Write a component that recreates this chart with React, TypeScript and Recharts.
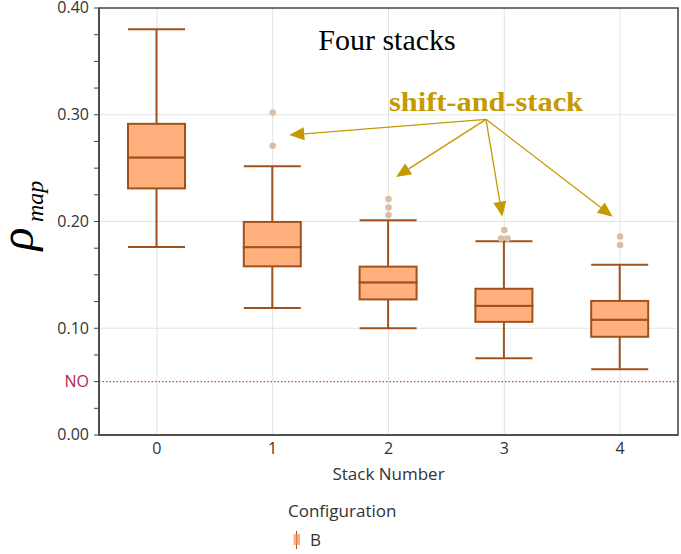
import React from 'react';
import {
  ComposedChart, Bar, Scatter, XAxis, YAxis, CartesianGrid,
  ReferenceLine, ReferenceArea, Legend
} from 'recharts';

// box plot summary per stack number
const stacks = [0, 1, 2, 3, 4];
const whiskerLow = [0.176, 0.119, 0.100, 0.072, 0.0615];
const q1 = [0.231, 0.158, 0.127, 0.106, 0.092];
const median = [0.260, 0.176, 0.143, 0.121, 0.108];
const q3 = [0.2915, 0.1996, 0.1577, 0.137, 0.1256];
const whiskerHigh = [0.380, 0.2518, 0.2012, 0.1815, 0.1596];

// outliers
const outlierStack = [1, 1, 2, 2, 2, 3, 3, 3, 4, 4];
const outlierValue = [0.302, 0.271, 0.221, 0.213, 0.206, 0.192, 0.184, 0.184, 0.186, 0.178];

// y ticks (every 0.025, labels on the major ones)
const yTicks = [0, 0.025, 0.05, 0.075, 0.1, 0.125, 0.15, 0.175, 0.2, 0.225, 0.25, 0.275, 0.3, 0.325, 0.35, 0.375, 0.4];
const yLabelled = [0, 0.1, 0.2, 0.3, 0.4];
const noLevel = 0.05;

// "shift-and-stack" annotation arrows (data units)
const arrowFrom = { x: 2.842, y: 0.2957 };
const arrowTipStack = [1.143, 2.065, 2.983, 3.936];
const arrowTipValue = [0.281, 0.2417, 0.2045, 0.2045];

const FILL = '#FFB07C';
const EDGE = '#A0521D';
const GOLD = '#C49A00';
const NO_RED = '#C8405E';
const SANS = '"Open Sans", "Noto Sans", sans-serif';
const SERIF = '"Liberation Serif", "Times New Roman", serif';

const rows = stacks.map((s, i) => ({
  stack: s,
  base: whiskerLow[i],
  lowWhisker: q1[i] - whiskerLow[i],
  lowBox: median[i] - q1[i],
  highBox: q3[i] - median[i],
  highWhisker: whiskerHigh[i] - q3[i],
}));

const outliers = outlierStack.map((s, i) => {
  const same = outlierStack
    .map((t, j) => ({ t, j }))
    .filter(o => o.t === s && outlierValue[o.j] === outlierValue[i]);
  return {
    stack: s,
    value: outlierValue[i],
    rank: same.findIndex(o => o.j === i),
    count: same.length,
  };
});

const LowWhisker = (p: any) => {
  const { x, y, width, height } = p;
  const cx = x + width / 2;
  return (
    <g>
      <line x1={cx} x2={cx} y1={y} y2={y + height} stroke={EDGE} strokeWidth={2} />
      <line x1={x} x2={x + width} y1={y + height} y2={y + height} stroke={EDGE} strokeWidth={2} />
    </g>
  );
};

const HighWhisker = (p: any) => {
  const { x, y, width, height } = p;
  const cx = x + width / 2;
  return (
    <g>
      <line x1={cx} x2={cx} y1={y} y2={y + height} stroke={EDGE} strokeWidth={2} />
      <line x1={x} x2={x + width} y1={y} y2={y} stroke={EDGE} strokeWidth={2} />
    </g>
  );
};

const BoxPart = (p: any) => (
  <rect x={p.x} y={p.y} width={p.width} height={p.height} fill={FILL} stroke={EDGE} strokeWidth={2} />
);

const OutlierDot = (p: any) => {
  const { cx, cy, payload } = p;
  if (cx == null || cy == null) return <g />;
  const dx = (payload.rank - (payload.count - 1) / 2) * 6.5;
  return <circle cx={cx + dx} cy={cy} r={3.3} fill="#DCBEA5" />;
};

const YTick = (p: any) => {
  const { x, y, payload } = p;
  const v = payload.value;
  let label = '';
  let color = '#333';
  if (Math.abs(v - noLevel) < 1e-6) {
    label = 'NO';
    color = '#B0244F';
  } else if (yLabelled.some(m => Math.abs(m - v) < 1e-6)) {
    label = v.toFixed(2);
  }
  if (!label) return <g />;
  return (
    <text x={x} y={y} dy="0.34em" textAnchor="end" fontSize={16} fontFamily={SANS} fill={color}>
      {label}
    </text>
  );
};

const Arrow = (p: any) => {
  const { x1, y1, x2, y2 } = p;
  const dx = x2 - x1;
  const dy = y2 - y1;
  const len = Math.sqrt(dx * dx + dy * dy);
  const ux = dx / len;
  const uy = dy / len;
  const head = 15;
  const half = 6.5;
  const bx = x2 - ux * head;
  const by = y2 - uy * head;
  return (
    <g>
      <line x1={x1} y1={y1} x2={bx} y2={by} stroke={GOLD} strokeWidth={1.3} />
      <polygon
        points={`${x2},${y2} ${bx - uy * half},${by + ux * half} ${bx + uy * half},${by - ux * half}`}
        fill={GOLD}
      />
    </g>
  );
};

const RhoLabel = () => (
  <g fontFamily={SERIF} fontStyle="italic" fill="#000">
    <text x={33} y={239} transform="rotate(-90 33 239)" textAnchor="middle" fontSize={48}>
      ρ
    </text>
    <text x={43} y={222} transform="rotate(-90 43 222)" fontSize={24}>
      map
    </text>
  </g>
);

const LegendBox = () => (
  <svg width={681} height={64} style={{ display: 'block' }}>
    <text x={288} y={27} fontSize={17} fontFamily={SANS} fill="#333">Configuration</text>
    <line x1={296.5} x2={296.5} y1={41} y2={59} stroke={EDGE} strokeWidth={1} />
    <rect x={293.5} y={44} width={6.5} height={11} fill={FILL} />
    <line x1={296.7} x2={296.7} y1={44} y2={55} stroke={EDGE} strokeWidth={1} opacity={0.6} />
    <text x={310} y={56} fontSize={17} fontFamily={SANS} fill="#333">B</text>
  </svg>
);

export default function App() {
  return (
    <div style={{ position: 'absolute', left: 0, top: 0, width: 681, height: 554, background: '#fff' }}>
      <ComposedChart width={681} height={554} data={rows} margin={{ top: 8, right: 3, bottom: 0, left: 0 }}>
        <CartesianGrid stroke="#e3e3e3" horizontalValues={[0.1, 0.2, 0.3]} />
        <XAxis
          dataKey="stack"
          type="number"
          domain={[-0.5, 4.5]}
          ticks={stacks}
          interval={0}
          allowDataOverflow
          height={55}
          axisLine={{ stroke: '#444', strokeWidth: 1.5 }}
          tickLine={false}
          tickSize={0}
          tickMargin={8}
          tick={{ fontSize: 16, fill: '#333', fontFamily: SANS }}
          label={{ value: 'Stack Number', position: 'insideBottom', offset: 10, fontSize: 17, fill: '#333', fontFamily: SANS }}
        />
        <YAxis
          type="number"
          domain={[0, 0.4]}
          ticks={yTicks}
          interval={0}
          allowDataOverflow
          width={99}
          axisLine={{ stroke: '#444', strokeWidth: 1.5 }}
          tickLine={{ stroke: '#444' }}
          tickSize={5}
          tickMargin={5}
          tick={<YTick />}
          label={{ content: () => <RhoLabel /> }}
        />
        <ReferenceLine y={noLevel} stroke={NO_RED} strokeDasharray="1.5 2" strokeWidth={1.3} />
        <Bar dataKey="base" stackId="box" fill="transparent" barSize={57} isAnimationActive={false} />
        <Bar dataKey="lowWhisker" stackId="box" shape={LowWhisker} barSize={57} isAnimationActive={false} />
        <Bar dataKey="lowBox" stackId="box" shape={BoxPart} barSize={57} isAnimationActive={false} />
        <Bar dataKey="highBox" stackId="box" shape={BoxPart} barSize={57} isAnimationActive={false} />
        <Bar dataKey="highWhisker" stackId="box" shape={HighWhisker} barSize={57} isAnimationActive={false} />
        <Scatter data={outliers} dataKey="value" shape={OutlierDot} isAnimationActive={false} />
        <ReferenceArea x1={-0.5} x2={4.5} y1={0} y2={0.4} fill="none" stroke="#444" strokeWidth={1.5} fillOpacity={0} />
        {arrowTipStack.map((s, i) => (
          <ReferenceLine
            key={`arrow-${i}`}
            segment={[arrowFrom, { x: s, y: arrowTipValue[i] }]}
            ifOverflow="visible"
            shape={Arrow}
          />
        ))}
        <text x={387} y={50} textAnchor="middle" fontFamily={SERIF} fontSize={30} fill="#000">Four stacks</text>
        <text x={389} y={111} fontFamily={SERIF} fontSize={28} fontWeight="bold" fill={GOLD} textLength={194} lengthAdjust="spacingAndGlyphs">
          shift-and-stack
        </text>
        <Legend verticalAlign="bottom" height={64} wrapperStyle={{ left: 0, top: 490, width: 681, height: 64 }} content={() => <LegendBox />} />
      </ComposedChart>
    </div>
  );
}
